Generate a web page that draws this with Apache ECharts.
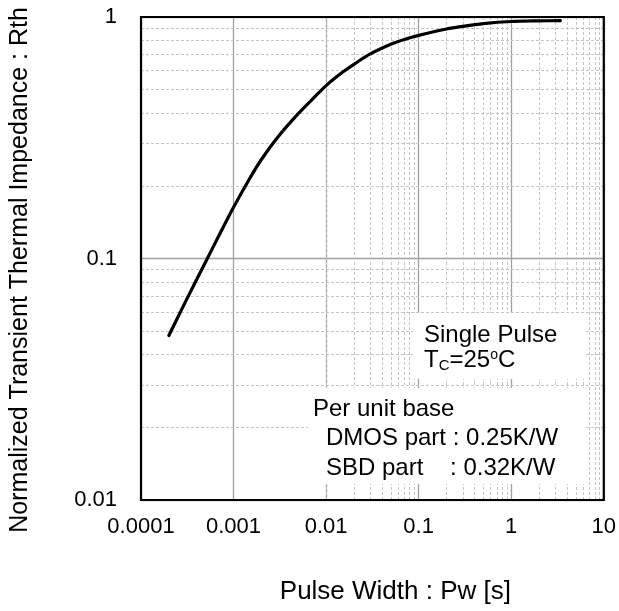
<!DOCTYPE html>
<html>
<head>
<meta charset="utf-8">
<script src="https://cdn.jsdelivr.net/npm/echarts@6/dist/echarts.min.js"></script>
<style>
html,body{margin:0;padding:0;background:#fff;}
#chart{width:619px;height:611px;}
</style>
</head>
<body>
<div id="chart"></div>
<script>
const pulseWidth = [0.0002, 0.0003, 0.0005, 0.0007, 0.001, 0.0015, 0.002, 0.003, 0.005, 0.007, 0.01, 0.015, 0.02, 0.03, 0.05, 0.07, 0.1, 0.2, 0.3, 0.5, 1, 2, 3.4];
const rth = [0.048, 0.0658, 0.097, 0.125, 0.163, 0.215, 0.257, 0.318, 0.398, 0.454, 0.52, 0.59, 0.637, 0.703, 0.771, 0.807, 0.839, 0.892, 0.915, 0.939, 0.958, 0.964, 0.966];
const xDecades = [0.0001, 0.001, 0.01, 0.1, 1];
const yDecades = [0.01, 0.1];
const minorSteps = [2, 3, 4, 5, 6, 7, 8, 9];
const xTitle = 'Pulse Width : Pw [s]';
const yTitle = 'Normalized Transient Thermal Impedance : Rth';

const minorX = [];
xDecades.forEach(d => minorSteps.forEach(m => minorX.push(+(d * m).toPrecision(3))));
const minorY = [];
yDecades.forEach(d => minorSteps.forEach(m => minorY.push(+(d * m).toPrecision(3))));

const FONT = '"Liberation Sans", Arial, sans-serif';
const chart = echarts.init(document.getElementById('chart'), null, {renderer: 'canvas'});

const gridL = 139, gridT = 17, gridW = 465, gridH = 483;

chart.setOption({
  animation: false,
  backgroundColor: '#fff',
  grid: {left: gridL, top: gridT, width: gridW, height: gridH, show: true, borderColor: '#000', borderWidth: 2.2, backgroundColor: 'transparent', z: 10},
  xAxis: {
    type: 'log', logBase: 10, min: 0.0001, max: 10,
    name: xTitle, nameLocation: 'middle', nameGap: 79,
    nameTextStyle: {fontFamily: FONT, fontSize: 26, color: '#000', padding: [0, 0, 0, 46]},
    axisLine: {show: false}, axisTick: {show: false},
    axisLabel: {fontFamily: FONT, fontSize: 22, color: '#000', margin: 16,
      formatter: v => String(+v.toPrecision(3))},
    splitLine: {show: true, lineStyle: {color: '#a0a0a0', width: 1.3}}
  },
  yAxis: {
    type: 'log', logBase: 10, min: 0.01, max: 1,
    name: yTitle, nameLocation: 'middle', nameGap: 108,
    nameTextStyle: {fontFamily: FONT, fontSize: 25, color: '#000', padding: [0, 23, 0, 0]},
    axisLine: {show: false}, axisTick: {show: false},
    axisLabel: {fontFamily: FONT, fontSize: 22, color: '#000', margin: 24,
      formatter: v => String(+v.toPrecision(3))},
    splitLine: {show: true, lineStyle: {color: '#a0a0a0', width: 1.3}}
  },
  series: [
    {
      type: 'line', data: [], silent: true, z: 1,
      markLine: {
        silent: true, symbol: 'none', animation: false,
        label: {show: false},
        lineStyle: {color: '#c4c4c4', type: [3, 2], width: 1},
        data: minorX.map(v => ({xAxis: v})).concat(minorY.map(v => ({yAxis: v})))
      }
    },
    {
      name: 'Rth', type: 'line', smooth: 0.3, symbol: 'none', z: 5,
      lineStyle: {color: '#000', width: 3.2, cap: 'round', join: 'round'},
      data: pulseWidth.map((x, i) => [x, rth[i]])
    }
  ],
  graphic: [
    {type: 'rect', left: 413, top: 313, shape: {width: 172, height: 66}, style: {fill: '#fff'}, z: 20},
    {type: 'text', left: 424, top: 323, z: 21, style: {text: 'Single Pulse', font: '24px ' + FONT, fill: '#000'}},
    {type: 'text', left: 424, top: 348, z: 21, style: {
      text: '{a|T}{b|C}{a|=25}{c|o}{a|C}',
      rich: {
        a: {fontFamily: FONT, fontSize: 24, color: '#000'},
        b: {fontFamily: FONT, fontSize: 15, color: '#000', padding: [12, 0, 0, 0]},
        c: {fontFamily: FONT, fontSize: 14, color: '#000', padding: [0, 0, 10, 0]}
      }
    }},
    {type: 'rect', left: 308, top: 388, shape: {width: 277, height: 96}, style: {fill: '#fff'}, z: 20},
    {type: 'text', left: 313, top: 397, z: 21, style: {text: 'Per unit base', font: '24px ' + FONT, fill: '#000'}},
    {type: 'text', left: 326, top: 426, z: 21, style: {text: 'DMOS part : 0.25K/W', font: '24px ' + FONT, fill: '#000'}},
    {type: 'text', left: 326, top: 456, z: 21, style: {text: 'SBD part    : 0.32K/W', font: '24px ' + FONT, fill: '#000'}}
  ]
});
</script>
</body>
</html>
